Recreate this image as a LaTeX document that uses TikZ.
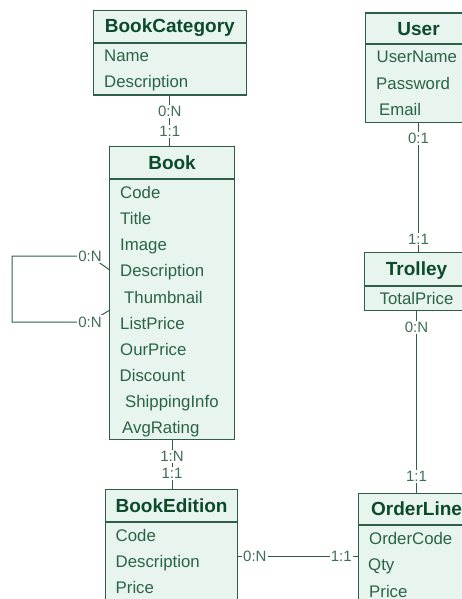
\documentclass[tikz,border=0pt]{standalone}
\usepackage{fontspec}
\setmainfont{Liberation Sans}
\definecolor{headc}{HTML}{0D4A2B}
\definecolor{attrc}{HTML}{2B6346}
\definecolor{cardc}{HTML}{3F6E57}
\definecolor{linec}{HTML}{2E5F46}
\definecolor{boxfill}{HTML}{E7F5EE}
\newcommand\headfont{\fontsize{19}{21}\selectfont\bfseries}
\newcommand\attrfont{\fontsize{16.8}{19}\selectfont}
\newcommand\cardfont{\fontsize{15}{17}\selectfont}
\tikzset{
  entity/.style={draw=linec, fill=boxfill, line width=1.1pt, anchor=north west, inner sep=0pt},
  divider/.style={draw=linec, line width=1.1pt},
  head/.style={font=\headfont, text=headc, anchor=base, inner sep=0pt},
  attr/.style={font=\attrfont, text=attrc, anchor=base west, inner sep=0pt},
  card/.style={font=\cardfont, text=cardc, fill=white, inner sep=1.2pt},
  rel/.style={draw=linec, line width=1pt}
}
\begin{document}
\begin{tikzpicture}[x=1pt,y=-1pt]
\useasboundingbox (0,0) rectangle (462,599);
\clip (0,0) rectangle (462,599);

% ---------- BookCategory ----------
\node[entity, minimum width=152.5pt, minimum height=84.5pt] (bookcat) at (93,10) {};
\draw[divider] (bookcat.west |- 0,43) -- (bookcat.east |- 0,43);
\node[head] (bookcatH) at (bookcat.north |- 0,33) {BookCategory};
\node[attr] (bcName) at (104,62) {Name};
\node[attr] (bcDesc) at (104,88) {Description};

% ---------- User ----------
\node[entity, minimum width=106pt, minimum height=109.5pt] (user) at (365,12.5) {};
\draw[divider] (user.west |- 0,44) -- (user.east |- 0,44);
\node[head] (userH) at (user.north |- 0,36) {User};
\node[attr] (uName) at (376.5,63) {UserName};
\node[attr] (uPass) at (376,90) {Password};
\node[attr] (uMail) at (379,116) {Email};

% ---------- Book ----------
\node[entity, minimum width=125pt, minimum height=293pt] (book) at (109,146) {};
\draw[divider] (book.west |- 0,179) -- (book.east |- 0,179);
\node[head] (bookH) at (book.north |- 0,169) {Book};
\node[attr] (bCode)  at (120,198) {Code};
\node[attr] (bTitle) at (120,224) {Title};
\node[attr] (bImage) at (120,250.5) {Image};
\node[attr] (bDesc)  at (120,276.5) {Description};
\node[attr] (bThumb) at (124,303) {Thumbnail};
\node[attr] (bList)  at (120,329) {ListPrice};
\node[attr] (bOur)   at (120,355.5) {OurPrice};
\node[attr] (bDisc)  at (119.5,381.5) {Discount};
\node[attr] (bShip)  at (125,407) {ShippingInfo};
\node[attr] (bAvg)   at (122,433) {AvgRating};

% ---------- Trolley ----------
\node[entity, minimum width=104pt, minimum height=58pt] (trolley) at (364,252) {};
\draw[divider] (trolley.west |- 0,286) -- (trolley.east |- 0,286);
\node[head] (trolleyH) at (trolley.north |- 0,275) {Trolley};
\node[attr, anchor=base] (tTotal) at (trolley.north |- 0,304) {TotalPrice};

% ---------- BookEdition ----------
\node[entity, minimum width=132pt, minimum height=134pt] (edition) at (105,489) {};
\draw[divider] (edition.west |- 0,522) -- (edition.east |- 0,522);
\node[head] (editionH) at (edition.north |- 0,512) {BookEdition};
\node[attr] (eCode)  at (115.5,541) {Code};
\node[attr] (eDesc)  at (115.5,567.5) {Description};
\node[attr] (ePrice) at (115.5,593.5) {Price};

% ---------- OrderLine ----------
\node[entity, minimum width=116pt, minimum height=126pt] (orderline) at (358,493) {};
\draw[divider] (orderline.west |- 0,525) -- (orderline.east |- 0,525);
\node[head] (orderlineH) at (orderline.north |- 0,515) {OrderLine};
\node[attr] (oCode)  at (369,544) {OrderCode};
\node[attr] (oQty)   at (368,570.5) {Qty};
\node[attr] (oPrice) at (369,597) {Price};

% ---------- Relationships ----------
\draw[rel] (bookcat.south) -- (bookcat.south |- book.north)
  node[card, pos=0.32] {0:N} node[card, pos=0.71] {1:1};

\draw[rel] (user.south) -- (user.south |- trolley.north)
  node[card, pos=0.12] {0:1} node[card, pos=0.9] {1:1};

\draw[rel] (trolley.south) -- (trolley.south |- orderline.north)
  node[card, pos=0.09] {0:N} node[card, pos=0.91] {1:1};

\draw[rel] (book.south) -- (book.south |- edition.north)
  node[card, pos=0.34] {1:N} node[card, pos=0.68] {1:1};

\draw[rel] (edition.east) -- (orderline.west)
  node[card, pos=0.14] {0:N} node[card, pos=0.86] {1:1};

% recursive relationship on Book
\coordinate (loopTop) at (90,256);
\coordinate (loopBot) at (90,322);
\draw[rel] ([yshift=23.5pt]book.west) -- (loopTop) -- (12,256) -- (12,322) -- (loopBot) -- ([yshift=-17.5pt]book.west);
\node[card] (cardTop) at (loopTop) {0:N};
\node[card] (cardBot) at (loopBot) {0:N};
\end{tikzpicture}
\end{document}
